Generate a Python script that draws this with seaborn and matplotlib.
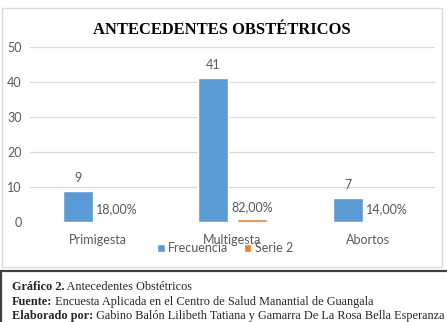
import pandas as pd
import matplotlib.pyplot as plt
import seaborn as sns
from matplotlib.patches import Rectangle

# datos del gráfico
categorias = ["Primigesta", "Multigesta", "Abortos"]
frecuencia = [9, 41, 7]
serie2 = [0.18, 0.82, 0.14]
etiquetas_serie2 = ["18,00%", "82,00%", "14,00%"]
series = ["Frecuencia", "Serie 2"]
yticks = [0, 10, 20, 30, 40, 50]

df = pd.DataFrame({"categoria": categorias * 2,
                   "serie": [series[0]] * 3 + [series[1]] * 3,
                   "valor": frecuencia + serie2})

sns.set_style("white")
plt.rcParams['font.family'] = ['Lato', 'DejaVu Sans']

W, H = 447, 322
fig = plt.figure(figsize=(W / 100, H / 100), dpi=100)
ax = fig.add_axes([30 / W, 1 - 222.3 / H, 405 / W, 175.6 / H])

gris = "#595959"
fs = 9
sns.barplot(data=df, x="categoria", y="valor", hue="serie", order=categorias,
            hue_order=series, palette=["#5B9BD5", "#ED7D31"], width=0.578,
            gap=0.23, saturation=1, ax=ax, legend=True)

ax.bar_label(ax.containers[0], labels=[str(v) for v in frecuencia],
             padding=5, fontsize=fs, color=gris)
ax.bar_label(ax.containers[1], labels=etiquetas_serie2,
             padding=4.5, fontsize=fs, color=gris)

ax.set_ylim(0, 50)
ax.set_xlim(-0.5, 2.5)
ax.set_yticks(yticks)
ax.set_yticklabels([str(t) for t in yticks])
ax.yaxis.grid(True, color="#D9D9D9", linewidth=0.9)
ax.set_axisbelow(True)
for s in ax.spines.values():
    s.set_visible(False)
ax.tick_params(axis="both", length=0, labelsize=fs, labelcolor=gris)
ax.tick_params(axis="x", pad=8.5)
ax.tick_params(axis="y", pad=6)
ax.set_xlabel("")
ax.set_ylabel("")

ax.legend(loc="center", bbox_to_anchor=(225 / W, 1 - 248.5 / H),
          bbox_transform=fig.transFigure, ncol=2, frameon=False,
          fontsize=fs, handlelength=0.6, handleheight=0.6, handletextpad=0.3,
          columnspacing=1.2, labelcolor=gris, borderpad=0)

fig.text(222 / W, 1 - 30 / H, "ANTECEDENTES OBSTÉTRICOS", ha="center",
         va="center", fontsize=11.9, fontweight="bold",
         family=["Liberation Serif"], color="black")

# marco del gráfico
fig.patches.append(Rectangle((1.5 / W, 1 - 267 / H), 440.5 / W, 259 / H,
                             transform=fig.transFigure, fill=False,
                             edgecolor="#D9D9D9", linewidth=1))
# recuadro de la leyenda del documento
fig.patches.append(Rectangle((0.8 / W, -0.1), 1.2, (H - 271) / H + 0.1,
                             transform=fig.transFigure, fill=False,
                             edgecolor="#404040", linewidth=1.6))

lineas = [("Gráfico 2.", " Antecedentes Obstétricos", 286.7),
          ("Fuente:", " Encuesta Aplicada en el Centro de Salud Manantial de Guangala", 301.7),
          ("Elaborado por:", " Gabino Balón Lilibeth Tatiana y Gamarra De La Rosa Bella Esperanza", 315.5)]
fig.canvas.draw()
r = fig.canvas.get_renderer()
for negrita, resto, y in lineas:
    t = fig.text(11.5 / W, 1 - y / H, negrita, ha="left", va="center",
                 fontsize=8.8, fontweight="bold", family=["Liberation Serif"])
    bb = t.get_window_extent(renderer=r)
    fig.text(bb.x1 / W, 1 - y / H, resto, ha="left", va="center",
             fontsize=8.8, family=["Liberation Serif"])

fig.savefig("out.png", dpi=100)
